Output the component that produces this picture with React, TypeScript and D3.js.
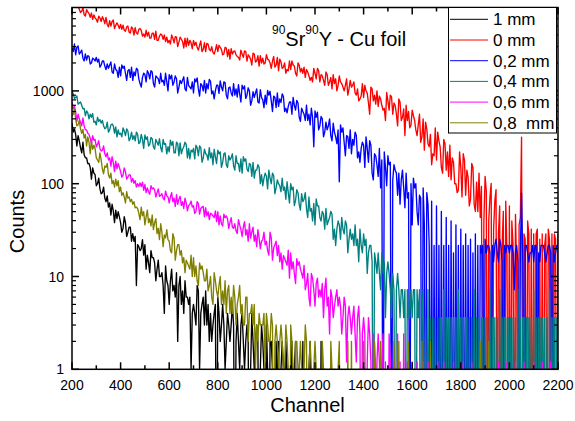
import React from "react";
import * as d3 from "d3";

const W = 575;
const H = 421;
const PLOT = { left: 72, right: 558, top: 7.5, bottom: 369.3 };

const CHANNEL_START = 200;
const CHANNEL_STEP = 5;

// counts per channel, sampled every 5 channels from channel 200 (one row = 50 channels)
const counts1mm = [
  450, 360, 390, 340, 255, 330, 290, 245, 215, 280,
  205, 190, 190, 165, 165, 150, 112, 148, 130, 125,
  95, 100, 115, 88, 78, 80, 92, 70, 64, 74,
  56, 62, 46, 60, 51, 38, 52, 42, 50, 44,
  38, 30, 33, 44, 38, 27, 30, 34, 34, 24,
  29, 24, 27, 8, 22, 21, 19, 20, 25, 17,
  22, 12, 17, 14, 11, 19, 16, 16, 14, 9,
  12, 15, 10, 10, 11, 8, 4, 13, 9, 8,
  5, 9, 12, 7, 8, 6, 11, 2, 8, 10,
  5, 7, 4, 9, 6, 6, 5, 6, 1, 4,
  5, 4, 3, 8, 7, 1, 4, 5, 6, 3,
  7, 3, 5, 2, 4, 2, 3, 4, 5, 0,
  6, 4, 2, 3, 5, 3, 1, 2, 4, 3,
  2, 3, 5, 3, 0, 2, 4, 2, 1, 3,
  4, 2, 1, 2, 3, 2, 0, 1, 4, 2,
  1, 2, 3, 2, 0, 1, 3, 2, 1, 0,
  3, 1, 0, 2, 2, 1, 1, 0, 2, 1,
  2, 0, 1, 2, 1, 0, 2, 1, 0, 1,
  1, 2, 0, 1, 2, 0, 0, 1, 1, 0,
  2, 0, 1, 0, 0, 1, 2, 0, 1, 0,
  1, 0, 0, 1, 0, 2, 0, 0, 1, 0,
  0, 0, 1, 0, 0, 0, 1, 0, 0, 0,
  0,
];

const counts0mm = [
  8200, 9300, 8800, 8600, 9000, 8100, 7600, 7000, 7200, 7900,
  6600, 6400, 7500, 7100, 6800, 6200, 6900, 5900, 6600, 6100,
  5900, 5500, 6400, 6100, 5600, 6300, 5900, 5300, 6200, 5200,
  4900, 5700, 5000, 5600, 5800, 4700, 5100, 5400, 5100, 4700,
  5200, 4600, 5100, 4500, 4400, 4900, 5000, 4300, 4200, 4900,
  4700, 4000, 4800, 4200, 4100, 4600, 4700, 4500, 3900, 4100,
  3800, 4500, 3900, 4300, 3700, 3700, 4200, 4200, 3600, 4400,
  3500, 3500, 3900, 4100, 4000, 3600, 4000, 3400, 3800, 3300,
  3500, 3200, 4000, 3700, 3300, 3850, 3800, 3000, 3350, 3800,
  3600, 3400, 2900, 3700, 3000, 3700, 3100, 3500, 3300, 2850,
  3500, 3100, 3350, 2950, 2750, 3100, 3450, 2650, 2800, 3300,
  2650, 3250, 3200, 2800, 2700, 3000, 2600, 2500, 2750, 3150,
  2650, 3100, 2950, 2800, 2450, 2500, 2950, 2900, 2350, 2800,
  2200, 2850, 2500, 2650, 2700, 2450, 2350, 2300, 2150, 2750,
  2500, 2300, 2700, 2650, 2100, 2450, 2350, 2200, 1900, 2550,
  2500, 2050, 2100, 2400, 1850, 2400, 2000, 2250, 1950, 2000,
  2450, 2200, 2150, 2000, 1750, 2100, 2350, 1800, 1900, 2300,
  1650, 2200, 2050, 1750, 1800, 2000, 1550, 1700, 1650, 2100,
  1700, 2100, 1900, 1850, 1550, 1450, 2000, 1900, 1600, 1750,
  1550, 1800, 1400, 1700, 1600, 1450, 1300, 1400, 1250, 1750,
  1550, 1350, 1750, 1650, 1250, 1500, 1450, 1300, 1150, 1600,
  1500, 1150, 1250, 1400, 1050, 1500, 1200, 1350, 1000, 1150,
  1450, 1250, 1200, 1100, 1000, 1150, 1350, 900, 1050, 1300,
  1100, 1150, 1250, 950, 900, 1050, 780, 820, 880, 1200,
  850, 1150, 1000, 950, 740, 560, 1100, 1050, 780, 900,
  720, 1000, 680, 880, 820, 700, 620, 650, 480, 960,
  780, 620, 900, 860, 560, 740, 700, 560, 420, 820,
  760, 480, 520, 640, 330, 700, 480, 600, 400, 430,
  620, 540, 480, 380, 330, 430, 560, 280, 320, 500,
  230, 460, 390, 270, 250, 340, 160, 210, 200, 400,
  180, 360, 290, 250, 150, 130, 300, 270, 140, 220,
  120, 260, 110, 190, 170, 100, 100, 80, 85, 220,
  150, 72, 210, 180, 75, 140, 118, 57.6, 68, 165,
  150, 60, 50.4, 104, 50, 130, 43.2, 93.6, 0, 39.6,
  120, 82.8, 0, 39.6, 72, 100.8, 0, 32.4, 64.8, 86.4,
  0, 28.8, 57.6, 0, 21.6, 50.4, 0, 64.8, 18, 0,
  57.6, 0, 39.6, 21.6, 0, 46.8, 10.8, 0, 36, 43.2,
  316.8, 0, 28.8, 25.2, 0, 39.6, 28.8, 0, 32.4, 0,
  28.8, 0, 28.8, 32.4, 0, 25.2, 0, 28.8, 0, 21.6,
  28.8, 0, 32.4, 25.2, 0, 28.8, 0, 28.8, 25.2, 0,
  28.8,
];

const counts02mm = [
  2900, 2650, 3200, 2450, 2950, 3050, 2500, 2600, 2750, 2250,
  2100, 2500, 2150, 2400, 2350, 1950, 2000, 2250, 2200, 2100,
  2300, 2050, 2200, 1800, 1900, 2100, 2100, 1850, 1700, 1950,
  1750, 1900, 2050, 1600, 1550, 1950, 1700, 1650, 1400, 1800,
  1450, 1900, 1750, 1850, 1550, 1300, 1650, 1700, 1400, 1800,
  1300, 1600, 1450, 1750, 1700, 1350, 1200, 1100, 1400, 1550,
  1500, 1250, 1650, 1550, 1350, 1650, 1600, 1200, 1100, 1450,
  1400, 1350, 1200, 1550, 1250, 1300, 1150, 1550, 1250, 1000,
  1500, 1350, 1480, 1150, 1250, 1450, 1350, 950, 1100, 1300,
  1200, 1300, 1420, 1050, 1000, 1400, 1150, 1100, 1050, 1250,
  950, 1350, 1250, 1380, 1050, 880, 1200, 1150, 1000, 1300,
  950, 1200, 1050, 1330, 1270, 930, 1000, 820, 1000, 1150,
  1150, 940, 1280, 1100, 1000, 1250, 1230, 900, 820, 1080,
  1100, 950, 880, 1200, 900, 1050, 860, 1170, 930, 760,
  1150, 1050, 1130, 830, 900, 1080, 1000, 700, 780, 980,
  850, 950, 1050, 760, 740, 1030, 850, 800, 660, 900,
  720, 1010, 900, 990, 780, 600, 880, 850, 660, 950,
  680, 820, 750, 930, 870, 600, 650, 580, 680, 760,
  760, 560, 850, 700, 620, 790, 740, 520, 470, 650,
  600, 560, 480, 700, 480, 560, 430, 650, 520, 250,
  610, 520, 590, 380, 420, 530, 500, 320, 360, 460,
  380, 420, 500, 330, 290, 450, 360, 320, 270, 380,
  105, 430, 360, 400, 280, 200, 330, 320, 240, 380,
  210, 300, 260, 360, 330, 190, 220, 170, 240, 280,
  260, 150, 320, 240, 170, 290, 260, 130, 110, 210,
  200, 160, 120, 240, 90, 180, 0, 220, 150, 95,
  200, 160, 170, 0, 110, 160, 140, 130, 75, 130,
  60, 110, 140, 90, 55, 130, 70, 80, 0, 100,
  36, 115, 90, 100, 50, 36, 75, 70, 0, 90,
  36, 0, 80, 60, 21.6, 0, 64.8, 0, 21.6, 0,
  57.6, 0, 21.6, 0, 50.4, 0, 21.6, 0, 43.2, 0,
  21.6, 0, 39.6, 0, 18, 0, 36, 0, 21.6, 0,
  32.4, 0, 21.6, 0, 28.8, 0, 21.6, 0, 25.2, 0,
  18, 0, 28.8, 0, 21.6, 0, 21.6, 18, 21.6, 0,
  25.2, 18, 21.6, 21.6, 18, 0, 21.6, 14.4, 21.6, 25.2,
  18, 14.4, 25.2, 21.6, 14.4, 0, 21.6, 18, 21.6, 21.6,
  18, 21.6, 21.6, 18, 7.2, 18, 21.6, 14.4, 0, 18,
  79.2, 14.4, 0, 21.6, 21.6, 18, 14.4, 18, 18, 21.6,
  14.4, 21.6, 21.6, 0, 18, 14.4, 21.6, 21.6, 21.6, 18,
  14.4, 18, 21.6, 21.6, 18, 0, 21.6, 14.4, 18, 21.6,
  21.6,
];

const counts04mm = [
  1000, 930, 830, 850, 880, 720, 740, 760, 700, 640,
  650, 540, 610, 580, 500, 560, 520, 570, 460, 470,
  430, 520, 470, 490, 450, 480, 420, 390, 400, 460,
  360, 380, 430, 440, 420, 350, 410, 320, 380, 340,
  350, 320, 400, 370, 330, 390, 370, 290, 310, 360,
  300, 330, 290, 360, 340, 270, 280, 340, 300, 240,
  335, 300, 320, 255, 265, 315, 305, 250, 235, 300,
  280, 260, 305, 245, 220, 300, 265, 270, 210, 250,
  220, 295, 260, 285, 215, 215, 280, 270, 200, 275,
  210, 235, 250, 280, 265, 190, 240, 185, 230, 220,
  240, 185, 260, 245, 200, 255, 245, 170, 190, 235,
  210, 205, 180, 245, 190, 215, 160, 235, 195, 165,
  230, 210, 220, 150, 170, 210, 215, 160, 150, 200,
  180, 190, 210, 155, 140, 200, 165, 165, 135, 185,
  130, 195, 175, 185, 145, 135, 165, 160, 120, 170,
  115, 140, 140, 160, 150, 100, 125, 95, 115, 130,
  120, 88, 140, 115, 100, 130, 122, 78, 90, 110,
  100, 95, 82, 115, 85, 92, 68, 105, 80, 62,
  100, 86, 92, 58, 66, 86, 80, 60, 52, 78,
  64, 68, 80, 54, 43.2, 72, 50.4, 54, 39.6, 61.2,
  36, 68.4, 57.6, 57.6, 43.2, 39.6, 50.4, 46.8, 32.4, 54,
  36, 39.6, 43.2, 50.4, 46.8, 25.2, 32.4, 21.6, 32.4, 39.6,
  36, 25.2, 43.2, 32.4, 28.8, 39.6, 36, 18, 25.2, 32.4,
  25.2, 28.8, 21.6, 36, 21.6, 25.2, 14.4, 32.4, 21.6, 18,
  28.8, 21.6, 25.2, 10.8, 18, 21.6, 21.6, 14.4, 0, 18,
  14.4, 10.8, 18, 10.8, 7.2, 18, 10.8, 14.4, 3.6, 10.8,
  14.4, 10.8, 7.2, 3.6, 10.8, 7.2, 0, 7.2, 10.8, 7.2,
  3.6, 7.2, 7.2, 3.6, 7.2, 0, 7.2, 3.6, 3.6, 7.2,
  3.6, 7.2, 7.2, 0, 7.2, 3.6, 7.2, 0, 3.6, 7.2,
  0, 3.6, 0, 7.2, 0, 3.6, 0, 3.6, 0, 3.6,
  0, 3.6, 0, 3.6, 3.6, 0, 7.2, 0, 3.6, 0,
  3.6, 0, 3.6, 0, 3.6, 0, 3.6, 0, 7.2, 0,
  3.6, 0, 3.6, 0, 3.6, 3.6, 0, 3.6, 0, 3.6,
  0, 7.2, 0, 3.6, 0, 3.6, 0, 3.6, 3.6, 0,
  3.6, 0, 3.6, 0, 7.2, 0, 3.6, 0, 3.6, 0,
  3.6, 0, 7.2, 0, 3.6, 0, 3.6, 3.6, 0, 3.6,
  0, 3.6, 0, 3.6, 0, 3.6, 0, 7.2, 0, 3.6,
  0, 3.6, 3.6, 0, 3.6, 0, 3.6, 0, 3.6, 0,
  7.2, 0, 3.6, 0, 3.6, 0, 3.6, 3.6, 0, 3.6,
  0, 3.6, 0, 7.2, 0, 3.6, 0, 3.6, 0, 3.6,
  3.6,
];

const counts06mm = [
  760, 640, 680, 600, 470, 560, 500, 460, 420, 510,
  420, 380, 380, 350, 340, 310, 270, 330, 295, 300,
  250, 265, 290, 240, 225, 230, 255, 210, 195, 215,
  180, 190, 155, 195, 170, 135, 175, 145, 165, 150,
  135, 118, 124, 148, 134, 112, 118, 125, 124, 104,
  114, 101, 108, 92, 100, 94, 102, 93, 104, 85,
  98, 80, 90, 82, 77, 95, 88, 90, 86, 72,
  80, 88, 73, 75, 78, 70, 67, 83, 74, 72,
  62, 72, 80, 64, 70, 57, 76, 60, 68, 73,
  58, 64, 54, 70, 62, 51, 58, 60, 65, 56,
  58, 48, 50, 64, 61, 47, 54, 56, 57, 44,
  55, 45, 50, 41, 48, 47, 45, 43, 51, 39,
  50, 36, 45, 37, 35, 47, 43, 45, 42, 33,
  38, 43, 34, 33, 37, 31, 29, 41, 36, 32,
  27, 34, 39, 28, 32, 24, 37, 26, 30, 34,
  24, 28, 21, 32, 26, 20, 24, 25, 30, 22,
  24, 19, 17, 30, 26, 15, 20.4, 22, 24, 16.8,
  21.6, 14.4, 18, 12, 16.8, 15.6, 14.4, 13.2, 19.2, 9.6,
  18, 12, 14.4, 10.8, 8.4, 15.6, 13.2, 14.4, 12, 10.8,
  9.6, 13.2, 7.2, 8.4, 10.8, 6, 4.8, 10.8, 9.6, 7.2,
  4.8, 8.4, 9.6, 6, 7.2, 6, 8.4, 3.6, 7.2, 9.6,
  4.8, 6, 2.4, 7.2, 6, 3.6, 4.8, 6, 7.2, 4.8,
  6, 4.8, 2.4, 3.6, 6, 4.8, 1.2, 3.6, 4.8, 3.6,
  2.4, 3.6, 4.8, 2.4, 1.2, 3.6, 4.8, 2.4, 0, 2.4,
  3.6, 2.4, 0, 1.2, 3.6, 2.4, 1.2, 0, 2.4, 1.2,
  0, 1.2, 2.4, 1.2, 0, 1.2, 2.4, 0, 1.2, 0,
  0, 2.4, 1.2, 0, 0, 1.2, 0, 0, 2.4, 0,
  1.2, 0, 0, 2.4, 0, 0, 1.2, 0, 0, 0,
  1.2, 0, 0, 0, 1.2, 0, 0, 0, 0, 1.2,
  0, 0, 0, 1.2, 0, 0, 0, 0, 0, 0,
  0, 1.2, 0, 0, 0, 0, 1.2, 0, 0, 0,
  0, 0, 0, 0, 1.2, 0, 0, 0, 0, 0,
  0, 0, 1.2, 0, 0, 0, 0, 0, 0, 1.2,
  0, 0, 0, 0, 0, 0, 1.2, 0, 0, 0,
  0, 0, 0, 1.2, 0, 0, 0, 0, 0, 0,
  0, 1.2, 0, 0, 0, 0, 0, 0, 1.2, 0,
  0, 0, 0, 0, 0, 1.2, 0, 0, 0, 0,
  0, 0, 1.2, 0, 0, 0, 0, 0, 0, 0,
  1.2, 0, 0, 0, 0, 0, 0, 1.2, 0, 0,
  0, 0, 0, 0, 1.2, 0, 0, 0, 0, 0,
  0,
];

const counts08mm = [
  540, 560, 640, 500, 420, 430, 480, 390, 350, 385,
  310, 340, 255, 320, 280, 210, 290, 235, 260, 240,
  190, 180, 170, 215, 180, 145, 128, 155, 150, 165,
  125, 115, 130, 100, 108, 92, 112, 95, 108, 82,
  92, 75, 80, 72, 62, 82, 70, 72, 64, 68,
  60, 64, 55, 56, 54, 48, 41, 56, 45, 50,
  36, 44, 52, 38, 42, 35, 46, 32, 38, 42,
  29, 33, 25, 37, 30, 21, 28, 26, 32, 25,
  24, 19, 18, 29, 26, 15, 19, 22, 22, 17,
  19, 14, 16, 11, 15, 14, 13, 12, 17, 10,
  16, 10, 13, 9, 8, 14, 12, 13, 11, 9,
  9, 12, 7, 8, 10, 6, 5, 11, 9, 7,
  6, 8, 10, 5, 7, 5, 9, 4, 7, 8,
  4, 6, 4, 8, 6, 3, 5, 6, 8, 4,
  5, 3, 3, 6, 6, 2, 4, 4, 5, 3,
  5, 1, 3, 2, 4, 3, 3, 3, 4, 1,
  4, 3, 2, 2, 4, 3, 0, 2, 3, 2,
  1, 2, 3, 2, 1, 1, 3, 2, 1, 0,
  3, 2, 1, 0, 2, 2, 1, 1, 2, 1,
  1, 1, 3, 2, 0, 1, 2, 1, 0, 1,
  2, 1, 0, 1, 1, 0, 2, 1, 0, 1,
  1, 0, 0, 2, 1, 0, 1, 0, 0, 1,
  2, 0, 1, 0, 0, 1, 0, 2, 0, 0,
  2, 0, 0, 1, 0, 0, 1, 0, 0, 0,
  2, 0, 1, 0, 0, 0, 1, 0, 0, 2,
  1, 0, 0, 0, 2, 0, 0, 1, 0, 0,
  1, 0, 0, 0, 0, 2, 0, 0, 0, 2,
  0, 0, 1, 0, 0, 0, 0, 2, 0, 0,
  0, 0, 1, 0, 0, 0, 0, 0, 2, 0,
  0, 0, 0, 0, 0, 2, 0, 0, 0, 0,
  0, 1, 0, 0, 0, 0, 0, 0, 0, 1,
  0, 0, 0, 0, 0, 0, 1, 0, 0, 0,
  0, 0, 0, 0, 0, 1, 0, 0, 0, 0,
  0, 0, 0, 0, 0, 0, 2, 0, 1, 0,
  0, 0, 0, 2, 0, 0, 0, 0, 0, 0,
  0, 0, 0, 0, 1, 0, 0, 0, 0, 0,
  0, 0, 0, 0, 0, 0, 1, 0, 0, 0,
  0, 0, 0, 0, 0, 0, 0, 0, 0, 0,
  1, 0, 0, 0, 0, 0, 0, 0, 0, 0,
  0, 0, 1, 0, 0, 0, 0, 0, 0, 0,
  0,
];

const seriesData = [counts1mm, counts0mm, counts02mm, counts04mm, counts06mm, counts08mm];
const seriesLabels = ["1 mm", "0 mm", "0,2 mm", "0,4 mm", "0,6 mm", "0,8  mm"];
const seriesColors = ["#000000", "#ff0000", "#0000ff", "#008080", "#ff00ff", "#808000"];

const xDomain = [200, 2200];
const yDomain = [1, 7920];
const xMajorTicks = [200, 400, 600, 800, 1000, 1200, 1400, 1600, 1800, 2000, 2200];
const xMinorTicks = [300, 500, 700, 900, 1100, 1300, 1500, 1700, 1900, 2100];
const yMajorTicks = [1, 10, 100, 1000];
const yMinorTicks = [
  2, 3, 4, 5, 6, 7, 8, 9,
  20, 30, 40, 50, 60, 70, 80, 90,
  200, 300, 400, 500, 600, 700, 800, 900,
  2000, 3000, 4000, 5000, 6000, 7000,
];

const FONT = "'Liberation Sans', Arial, Helvetica, sans-serif";

export default function App() {
  const x = d3.scaleLinear().domain(xDomain).range([PLOT.left, PLOT.right]);
  const y = d3.scaleLog().domain(yDomain).range([PLOT.bottom, PLOT.top]);
  const line = d3
    .line<number>()
    .x((_, i) => x(CHANNEL_START + i * CHANNEL_STEP))
    .y((d) => y(Math.max(d, 0.02)));

  const majorLen = 7;
  const minorLen = 4;

  return (
    <svg
      width={W}
      height={H}
      viewBox={`0 0 ${W} ${H}`}
      style={{ position: "absolute", left: 0, top: 0, background: "#fff", fontFamily: FONT }}
    >
      <defs>
        <clipPath id="plotClip">
          <rect x={PLOT.left} y={PLOT.top} width={PLOT.right - PLOT.left} height={PLOT.bottom - PLOT.top} />
        </clipPath>
      </defs>
      <rect x={0} y={0} width={W} height={H} fill="#fff" />

      <g clipPath="url(#plotClip)">
        {seriesData.map((data, k) => (
          <path
            key={k}
            d={line(data) || ""}
            fill="none"
            stroke={seriesColors[k]}
            strokeWidth={1.35}
            strokeLinejoin="round"
          />
        ))}
      </g>

      <rect
        x={PLOT.left}
        y={PLOT.top}
        width={PLOT.right - PLOT.left}
        height={PLOT.bottom - PLOT.top}
        fill="none"
        stroke="#000"
        strokeWidth={1.5}
      />

      {xMajorTicks.map((t) => (
        <g key={"xM" + t}>
          <line x1={x(t)} x2={x(t)} y1={PLOT.bottom} y2={PLOT.bottom - majorLen} stroke="#000" strokeWidth={1.5} />
          <line x1={x(t)} x2={x(t)} y1={PLOT.top} y2={PLOT.top + majorLen} stroke="#000" strokeWidth={1.5} />
          <text x={x(t)} y={390} textAnchor="middle" fontSize={14} fill="#000">
            {t}
          </text>
        </g>
      ))}
      {xMinorTicks.map((t) => (
        <g key={"xm" + t}>
          <line x1={x(t)} x2={x(t)} y1={PLOT.bottom} y2={PLOT.bottom - minorLen} stroke="#000" strokeWidth={1.5} />
          <line x1={x(t)} x2={x(t)} y1={PLOT.top} y2={PLOT.top + minorLen} stroke="#000" strokeWidth={1.5} />
        </g>
      ))}

      {yMajorTicks.map((t) => (
        <g key={"yM" + t}>
          <line x1={PLOT.left} x2={PLOT.left + majorLen} y1={y(t)} y2={y(t)} stroke="#000" strokeWidth={1.5} />
          <line x1={PLOT.right} x2={PLOT.right - majorLen} y1={y(t)} y2={y(t)} stroke="#000" strokeWidth={1.5} />
          <text x={64} y={y(t) + 5} textAnchor="end" fontSize={14} fill="#000">
            {t}
          </text>
        </g>
      ))}
      {yMinorTicks.map((t) => (
        <g key={"ym" + t}>
          <line x1={PLOT.left} x2={PLOT.left + minorLen} y1={y(t)} y2={y(t)} stroke="#000" strokeWidth={1.2} />
          <line x1={PLOT.right} x2={PLOT.right - minorLen} y1={y(t)} y2={y(t)} stroke="#000" strokeWidth={1.2} />
        </g>
      ))}

      <text x={307.5} y={412} textAnchor="middle" fontSize={20} fill="#000">
        Channel
      </text>
      <text transform={`translate(24, 221.5) rotate(-90)`} textAnchor="middle" fontSize={20} fill="#000">
        Counts
      </text>

      <text x={272} y={46} fontSize={20} fill="#000">
        <tspan fontSize={12} dy={-12}>90</tspan>
        <tspan dy={12}>Sr</tspan>
        <tspan fontSize={12} dy={-12}>90</tspan>
        <tspan dy={12}>Y - Cu foil</tspan>
      </text>

      <rect x={448.5} y={7.5} width={108} height={125.5} fill="#fff" stroke="#000" strokeWidth={1} />
      {seriesLabels.map((lab, k) => {
        const cy = 19.3 + k * 20.7;
        return (
          <g key={"lg" + k}>
            <line x1={450} x2={488} y1={cy} y2={cy} stroke={seriesColors[k]} strokeWidth={1} />
            <text x={493} y={cy + 6} fontSize={17} fill="#000" style={{ whiteSpace: "pre" }}>
              {lab}
            </text>
          </g>
        );
      })}
    </svg>
  );
}
